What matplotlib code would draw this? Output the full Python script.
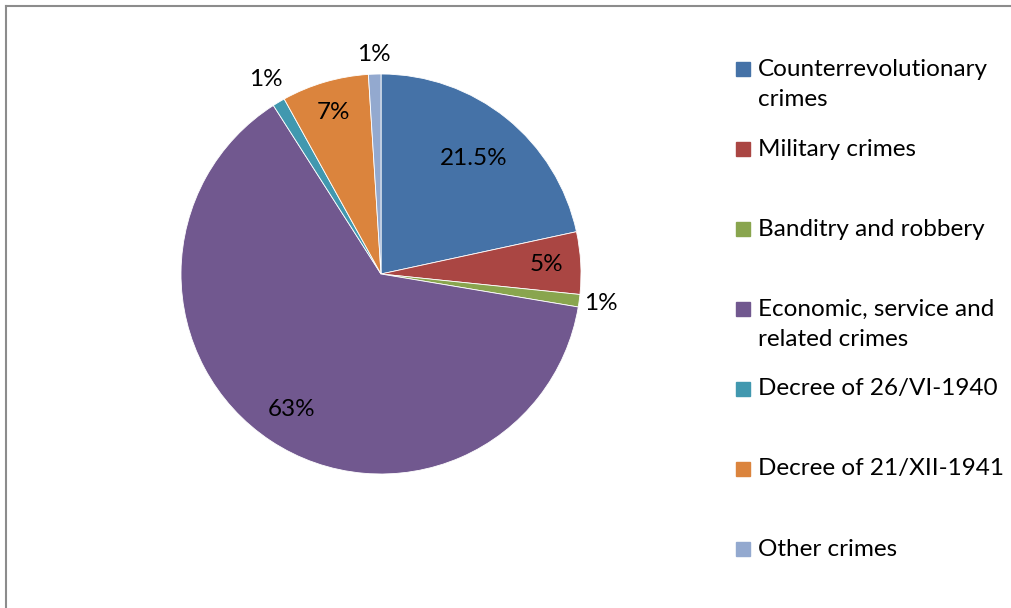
import numpy as np
import matplotlib.pyplot as plt
from matplotlib.lines import Line2D
from matplotlib.patches import Rectangle

plt.rcParams['font.family'] = ['Lato', 'DejaVu Sans']

categories = ['Counterrevolutionary\ncrimes', 'Military crimes', 'Banditry and robbery',
              'Economic, service and\nrelated crimes', 'Decree of 26/VI-1940',
              'Decree of 21/XII-1941', 'Other crimes']
shares = [21.5, 5, 1, 63, 1, 7, 1]
pct_labels = ['21.5%', '5%', '1%', '63%', '1%', '7%', '1%']
colors = ['#4572A7', '#AA4643', '#89A54E', '#71588F', '#4198AF', '#DB843D', '#93A9CF']
# radial position of each value label, in units of the pie radius
label_r = [0.74, 0.83, 1.11, 0.81, 1.13, 0.84, 1.1]

W, H = 1012, 608
FS = 17.5
fig = plt.figure(figsize=(W / 100, H / 100), dpi=100)

# chart frame (only top and left edges fall inside the image)
fig.add_artist(Line2D([6 / W, 6 / W], [0, 1 - 6 / H], color='#8c8c8c', lw=1.5))
fig.add_artist(Line2D([6 / W, 1], [1 - 6 / H, 1 - 6 / H], color='#8c8c8c', lw=1.5))

cx, cy, R = 381, 274, 200
ax = fig.add_axes([(cx - R) / W, (H - cy - R) / H, 2 * R / W, 2 * R / H])
wedges, _ = ax.pie(shares, colors=colors, startangle=90, counterclock=False,
                   radius=1, wedgeprops=dict(edgecolor='white', linewidth=0.6))
ax.set_xlim(-1, 1)
ax.set_ylim(-1, 1)
ax.set_aspect('equal')
ax.axis('off')

for w, lab, r in zip(wedges, pct_labels, label_r):
    ang = np.deg2rad((w.theta1 + w.theta2) / 2)
    ax.text(r * np.cos(ang), r * np.sin(ang), lab, ha='center', va='center',
            fontsize=FS, color='black', clip_on=False)

# legend drawn on a fixed 80px grid
lx, ly0, step = 736, 69, 80
for i, (lab, c) in enumerate(zip(categories, colors)):
    y = ly0 + i * step
    fig.add_artist(Rectangle((lx / W, (H - y - 7) / H), 14 / W, 14 / H,
                             color=c, transform=fig.transFigure))
    fig.text(758 / W, (H - y) / H, lab.split('\n')[0], ha='left', va='center', fontsize=FS)
    if '\n' in lab:
        fig.text(758 / W, (H - y - 30) / H, lab.split('\n')[1], ha='left', va='center', fontsize=FS)

fig.savefig('out.png', dpi=100)
